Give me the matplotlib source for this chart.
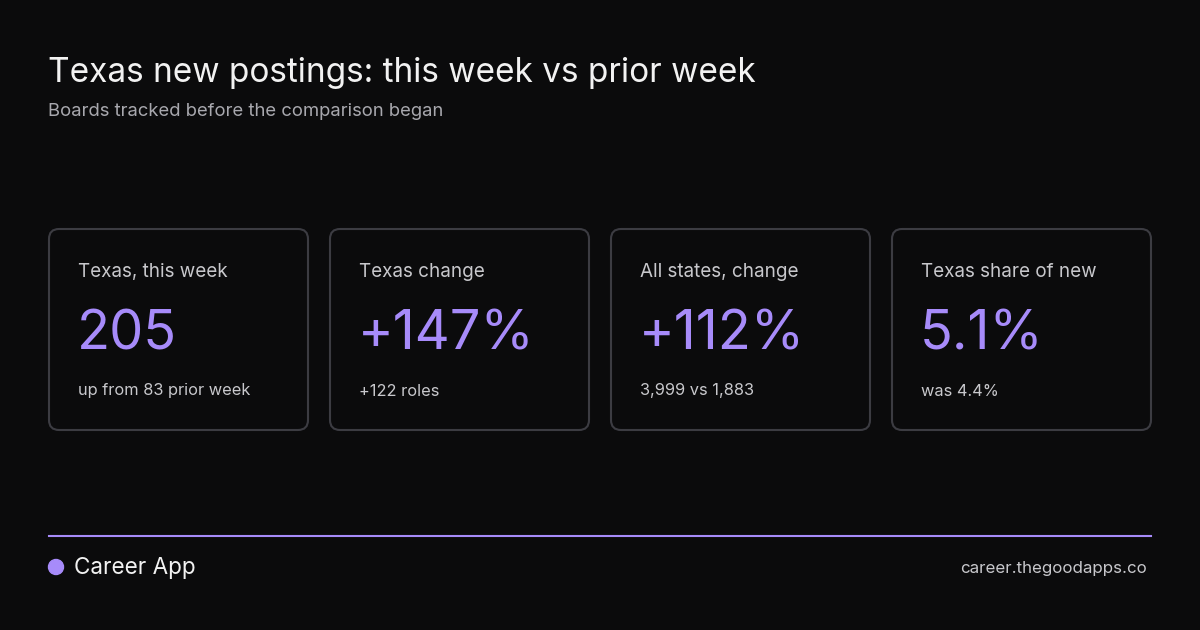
import matplotlib
matplotlib.use("Agg")
import matplotlib.pyplot as plt
from matplotlib.patches import FancyBboxPatch, Circle

plt.rcParams['font.family'] = ['Inter', 'DejaVu Sans']

labels = ["Texas, this week", "Texas change", "All states, change", "Texas share of new"]
values = ["205", "+147%", "+112%", "5.1%"]
subs = ["up from 83 prior week", "+122 roles", "3,999 vs 1,883", "was 4.4%"]

BG = "#0b0b0c"
PURPLE = "#a78bfa"
fig = plt.figure(figsize=(12, 6.3), dpi=100, facecolor=BG)
ax = fig.add_axes([0, 0, 1, 1])
ax.set_xlim(0, 1200); ax.set_ylim(630, 0); ax.axis("off")
ax.set_facecolor(BG)

ax.text(48, 73, "Texas new postings: this week vs prior week", color="#f2f2f2",
        fontsize=24, va="center", ha="left")
ax.text(48, 112, "Boards tracked before the comparison began", color="#a8a8ae",
        fontsize=13.3, va="center", ha="left")

x0s = [49, 330, 611, 892]
w, top, h = 259, 229, 201
for x, lab, val, sub in zip(x0s, labels, values, subs):
    ax.add_patch(FancyBboxPatch((x, top), w, h, boxstyle="round,pad=0,rounding_size=10",
                                facecolor=BG, edgecolor="#3c3c42", linewidth=1.5))
    ax.text(x + 29, 272, lab, color="#c8c8cc", fontsize=13.6, va="center", ha="left")
    ax.text(x + 28, 335, val, color=PURPLE, fontsize=39, va="center", ha="left")
    ax.text(x + 29, 391, sub, color="#c8c8cc", fontsize=11.8, va="center", ha="left")

ax.plot([49, 1151], [536, 536], color=PURPLE, linewidth=1.5)
ax.add_patch(Circle((56, 567), 7.5, color=PURPLE))
ax.text(74, 568, "Career App", color="#f2f2f2", fontsize=16.2, va="center", ha="left")
ax.text(1147, 568, "career.thegoodapps.co", color="#c8c8cc", fontsize=12.2,
        va="center", ha="right")

fig.savefig("out.png", dpi=100, facecolor=BG)
